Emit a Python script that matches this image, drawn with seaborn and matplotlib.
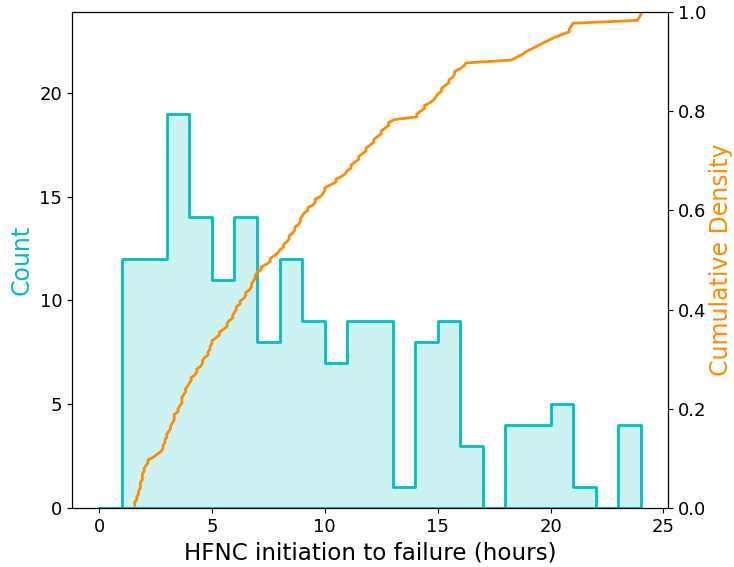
import seaborn as sns
import matplotlib.pyplot as plt
import numpy as np
import pandas as pd

# hours from HFNC initiation to failure (5-minute resolution, ties kept),
# grouped by hour for readability
h1 = [1.58, 1.58, 1.67, 1.67, 1.75, 1.75, 1.83, 1.83, 1.83, 1.92, 1.92, 1.92]
h2 = [2.0, 2.0, 2.08, 2.17, 2.17, 2.42, 2.58, 2.75, 2.83, 2.83, 2.92, 2.92]
h3 = [3.0, 3.0, 3.08, 3.17, 3.17, 3.25, 3.33, 3.33, 3.33, 3.5, 3.5, 3.58,
      3.67, 3.67, 3.67, 3.75, 3.83, 3.83, 3.92]
h4 = [4.0, 4.08, 4.08, 4.25, 4.33, 4.33, 4.5, 4.58, 4.58, 4.67, 4.83, 4.83,
      4.92, 4.92]
h5 = [5.0, 5.0, 5.17, 5.33, 5.33, 5.5, 5.67, 5.67, 5.75, 5.92, 5.92]
h6 = [6.0, 6.08, 6.08, 6.25, 6.25, 6.42, 6.5, 6.5, 6.67, 6.75, 6.75, 6.83,
      6.92, 6.92]
h7 = [7.0, 7.17, 7.17, 7.42, 7.58, 7.58, 7.75, 7.92]
h8 = [8.0, 8.17, 8.17, 8.33, 8.42, 8.42, 8.58, 8.67, 8.67, 8.83, 8.92, 8.92]
h9 = [9.0, 9.08, 9.25, 9.25, 9.5, 9.58, 9.58, 9.83, 9.92]
h10 = [10.0, 10.0, 10.25, 10.5, 10.5, 10.75, 10.92]
h11 = [11.0, 11.17, 11.17, 11.33, 11.5, 11.5, 11.67, 11.83, 11.83]
h12 = [12.0, 12.17, 12.17, 12.33, 12.5, 12.5, 12.67, 12.83, 12.83]
h13 = [13.08]
h14 = [14.08, 14.08, 14.25, 14.42, 14.42, 14.67, 14.83, 14.92]
h15 = [15.0, 15.17, 15.17, 15.33, 15.5, 15.5, 15.67, 15.75, 15.75]
h16 = [16.0, 16.17, 16.25]
h18 = [18.25, 18.5, 18.75, 18.92]
h19 = [19.17, 19.42, 19.67, 19.92]
h20 = [20.17, 20.5, 20.83, 20.83, 20.92]
h21 = [21.0]
h23 = [23.83, 23.92, 24.0, 24.0]

hours = (h1 + h2 + h3 + h4 + h5 + h6 + h7 + h8 + h9 + h10 + h11 + h12 + h13
         + h14 + h15 + h16 + h18 + h19 + h20 + h21 + h23)
df = pd.DataFrame({"hours": hours})

# cumulative share, points joined by straight lines
cdf = df.sort_values("hours").reset_index(drop=True)
cdf["cum"] = np.arange(1, len(cdf) + 1) / len(cdf)

fig, ax = plt.subplots(figsize=(7.34, 5.67), dpi=100)
fig.subplots_adjust(left=0.098, right=0.91, bottom=0.104, top=0.979)

sns.histplot(data=df, x="hours", bins=range(0, 25), element="step", fill=True,
             color="c", alpha=0.2, linewidth=2, ax=ax)
ax.set_ylim(0, 23.9)
ax.set_xlabel("HFNC initiation to failure (hours)", fontsize=16.6)
ax.set_ylabel("Count", color="c", fontsize=17)
ax.tick_params(labelsize=13)

ax2 = ax.twinx()
# estimator=None keeps every point, so ties give short vertical steps
sns.lineplot(data=cdf, x="hours", y="cum", estimator=None, sort=False,
             color="darkorange", linewidth=2, ax=ax2)
ax2.set_ylim(0, 1.0)
ax2.set_ylabel("Cumulative Density", color="darkorange", fontsize=17, labelpad=2)
ax2.tick_params(labelsize=13)

plt.savefig("out.png")
